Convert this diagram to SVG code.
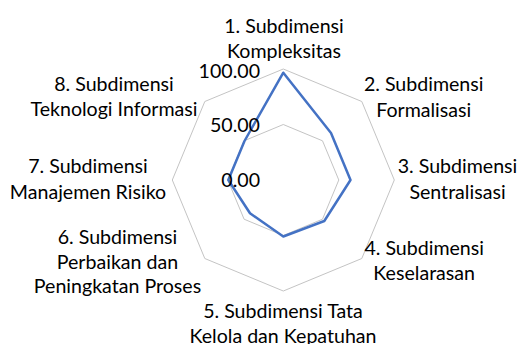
<svg xmlns="http://www.w3.org/2000/svg" width="519" height="344" viewBox="0 0 519 344">
<style>
.lbl{font-family:Lato,"Liberation Sans",sans-serif;font-size:19.6px;fill:#000;text-anchor:middle}
.ax{font-family:Lato,"Liberation Sans",sans-serif;font-size:19.6px;fill:#000;text-anchor:end}
.grid{fill:none;stroke:#C4C4C4;stroke-width:1}
.series{fill:none;stroke:#4472C4;stroke-width:2.5;stroke-linejoin:round}
</style>
<rect width="519" height="344" fill="#fff"/>
<g id="grid">
<polygon class="grid" points="283.3,69 361.8,101.5 394.3,180 361.8,258.5 283.3,291 204.8,258.5 172.3,180 204.8,101.5"/>
<polygon class="grid" points="283.3,124.5 322.5,140.8 338.8,180 322.5,219.2 283.3,235.5 244.1,219.2 227.8,180 244.1,140.8"/>
</g>
<g id="series">
<polygon class="series" points="283.3,72.7 331,133 350.5,180 324.3,221 283.3,236.5 250,213.3 228.3,180 244.5,141"/>
</g>
<g id="axis-labels">
<text class="ax" x="260" y="77.5">100.00</text>
<text class="ax" x="260" y="132">50.00</text>
<text class="ax" x="260" y="187">0.00</text>
</g>
<g id="label-1"><text class="lbl" x="284" y="32.5">1. Subdimensi</text><text class="lbl" x="284" y="57.5">Kompleksitas</text></g>
<g id="label-2"><text class="lbl" x="423.7" y="91">2. Subdimensi</text><text class="lbl" x="423.7" y="116.5">Formalisasi</text></g>
<g id="label-3"><text class="lbl" x="457.5" y="173.3">3. Subdimensi</text><text class="lbl" x="457.5" y="199">Sentralisasi</text></g>
<g id="label-4"><text class="lbl" x="424.2" y="255">4. Subdimensi</text><text class="lbl" x="424.2" y="280">Keselarasan</text></g>
<g id="label-5"><text class="lbl" x="283" y="317.8">5. Subdimensi Tata</text><text class="lbl" x="283" y="342.5">Kelola dan Kepatuhan</text></g>
<g id="label-6"><text class="lbl" x="117.5" y="244.3">6. Subdimensi</text><text class="lbl" x="117.5" y="268.8">Perbaikan dan</text><text class="lbl" x="117.5" y="293.3">Peningkatan Proses</text></g>
<g id="label-7"><text class="lbl" x="88" y="173.3">7. Subdimensi</text><text class="lbl" x="88" y="198.5">Manajemen Risiko</text></g>
<g id="label-8"><text class="lbl" x="114" y="90.5">8. Subdimensi</text><text class="lbl" x="114" y="115.5">Teknologi Informasi</text></g>
</svg>
